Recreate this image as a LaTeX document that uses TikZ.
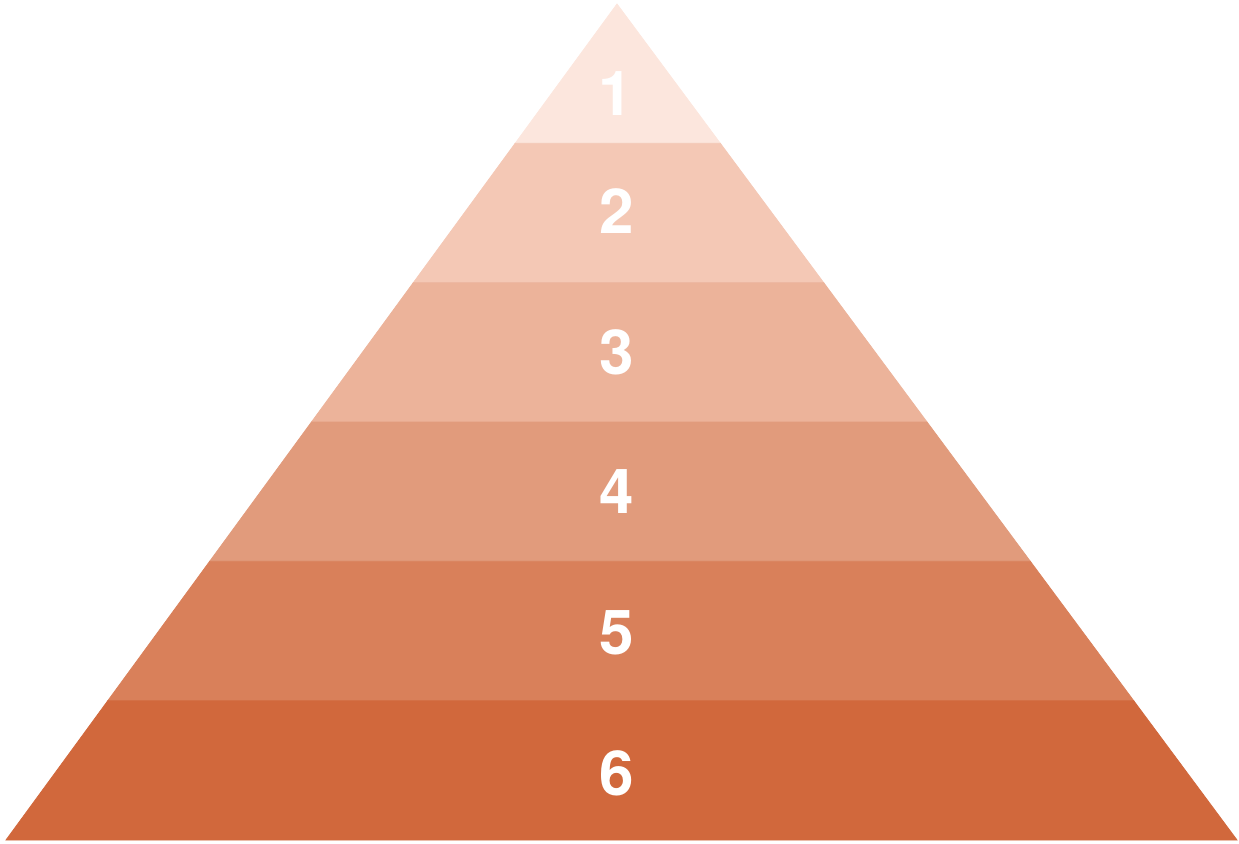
\documentclass[tikz,border=0pt]{standalone}
\usepackage{fontspec}
\setmainfont{TeX Gyre Heros}
\usepackage{tikz}
\usetikzlibrary{calc}
\definecolor{tierone}{HTML}{FCE6DD}
\definecolor{tiertwo}{HTML}{F4C8B5}
\definecolor{tierthree}{HTML}{ECB39A}
\definecolor{tierfour}{HTML}{E19B7C}
\definecolor{tierfive}{HTML}{D9805A}
\definecolor{tiersix}{HTML}{D1683C}
\tikzset{
  tierband/.style={
    fill=#1,
    draw=#1,
    line width=0.4pt,
    line join=miter
  },
  tierlabel/.style={
    text=white,
    font=\fontsize{31}{31}\selectfont\bfseries,
    inner sep=0pt,
    anchor=center
  }
}

\begin{document}
\begin{tikzpicture}[x=0.5pt,y=-0.5pt]
  \useasboundingbox (0,0) rectangle (1239,843);
  \coordinate (apex) at (617,4);
  \coordinate (bl) at (6,840);
  \coordinate (br) at (1237,840);
  % pyramid bands, top to bottom
  \filldraw[tierband=tierone] (apex) -- ($(apex)!1/6!(br)$) -- ($(apex)!1/6!(bl)$) -- cycle;
  \filldraw[tierband=tiertwo] ($(apex)!1/6!(bl)$) -- ($(apex)!1/6!(br)$) -- ($(apex)!2/6!(br)$) -- ($(apex)!2/6!(bl)$) -- cycle;
  \filldraw[tierband=tierthree] ($(apex)!2/6!(bl)$) -- ($(apex)!2/6!(br)$) -- ($(apex)!3/6!(br)$) -- ($(apex)!3/6!(bl)$) -- cycle;
  \filldraw[tierband=tierfour] ($(apex)!3/6!(bl)$) -- ($(apex)!3/6!(br)$) -- ($(apex)!4/6!(br)$) -- ($(apex)!4/6!(bl)$) -- cycle;
  \filldraw[tierband=tierfive] ($(apex)!4/6!(bl)$) -- ($(apex)!4/6!(br)$) -- ($(apex)!5/6!(br)$) -- ($(apex)!5/6!(bl)$) -- cycle;
  \filldraw[tierband=tiersix] ($(apex)!5/6!(bl)$) -- ($(apex)!5/6!(br)$) -- (br) -- (bl) -- cycle;
  % tier numbers
  \node[tierlabel] (one) at (616,94) {1};
  \node[tierlabel] (two) at (617,211) {2};
  \node[tierlabel] (three) at (617,352) {3};
  \node[tierlabel] (four) at (617,492) {4};
  \node[tierlabel] (five) at (617,633) {5};
  \node[tierlabel] (six) at (617,773) {6};
\end{tikzpicture}
\end{document}
